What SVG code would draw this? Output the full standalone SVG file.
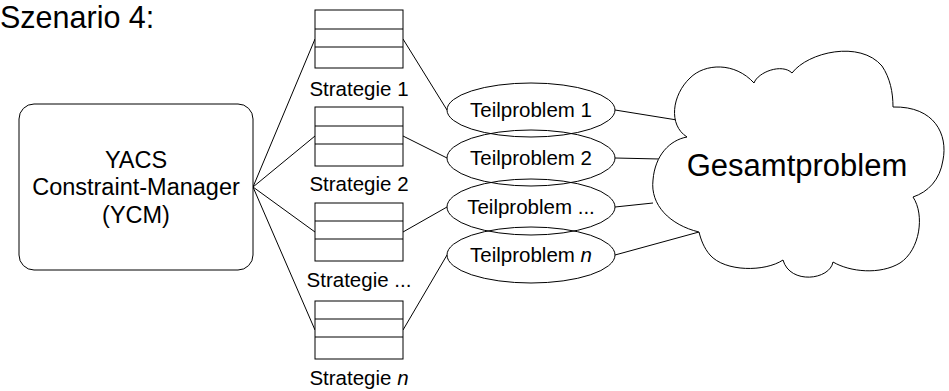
<svg xmlns="http://www.w3.org/2000/svg" width="949" height="391" viewBox="0 0 949 391">
<style>
  .s{fill:#fff;stroke:#000;stroke-width:1}
  .ln{stroke:#000;stroke-width:1;fill:none}
  text{font-family:"Liberation Sans",Arial,sans-serif;fill:#000}
  .lbl{font-size:20.5px;text-anchor:middle}
  .ycm{font-size:23.5px;text-anchor:middle}
  .it{font-style:italic}
</style>
<rect width="949" height="391" fill="#fff"/>
<text x="0" y="28" style="font-size:30.5px">Szenario 4:</text>

<g id="connectors">
  <line class="ln" x1="253" y1="187" x2="315" y2="39"/>
  <line class="ln" x1="253" y1="187" x2="315" y2="136"/>
  <line class="ln" x1="253" y1="187" x2="315" y2="232"/>
  <line class="ln" x1="253" y1="187" x2="315" y2="330"/>
  <line class="ln" x1="403" y1="39" x2="447" y2="110"/>
  <line class="ln" x1="403" y1="136" x2="447" y2="158"/>
  <line class="ln" x1="403" y1="232" x2="447" y2="207"/>
  <line class="ln" x1="403" y1="330" x2="447" y2="255"/>
  <line class="ln" x1="615" y1="110" x2="677" y2="120"/>
  <line class="ln" x1="615" y1="158" x2="660" y2="159"/>
  <line class="ln" x1="615" y1="207" x2="653" y2="203"/>
  <line class="ln" x1="615" y1="255" x2="699" y2="232"/>
</g>

<g id="ycm">
  <rect class="s" x="19" y="104" width="234" height="166" rx="15" ry="15"/>
  <text class="ycm" x="136" y="168">YACS</text>
  <text class="ycm" x="136" y="195">Constraint-Manager</text>
  <text class="ycm" x="136" y="223">(YCM)</text>
</g>

<g id="strategie1">
  <rect class="s" x="315" y="10" width="88" height="58"/>
  <line class="ln" x1="315" y1="29" x2="403" y2="29"/>
  <line class="ln" x1="315" y1="47" x2="403" y2="47"/>
  <text class="lbl" x="359" y="96">Strategie 1</text>
</g>
<g id="strategie2">
  <rect class="s" x="315" y="107" width="88" height="59"/>
  <line class="ln" x1="315" y1="126" x2="403" y2="126"/>
  <line class="ln" x1="315" y1="144" x2="403" y2="144"/>
  <text class="lbl" x="359" y="191">Strategie 2</text>
</g>
<g id="strategie3">
  <rect class="s" x="315" y="203" width="88" height="58"/>
  <line class="ln" x1="315" y1="221" x2="403" y2="221"/>
  <line class="ln" x1="315" y1="239" x2="403" y2="239"/>
  <text class="lbl" x="359" y="287">Strategie ...</text>
</g>
<g id="strategieN">
  <rect class="s" x="315" y="301" width="88" height="58"/>
  <line class="ln" x1="315" y1="319" x2="403" y2="319"/>
  <line class="ln" x1="315" y1="337" x2="403" y2="337"/>
  <text class="lbl" x="359" y="385">Strategie <tspan class="it">n</tspan></text>
</g>

<g id="teil1">
  <ellipse class="s" cx="531" cy="110" rx="84" ry="27" fill-opacity="0"/>
  <text class="lbl" x="531" y="117">Teilproblem 1</text>
</g>
<g id="teil2">
  <ellipse class="ln" cx="531" cy="158" rx="84" ry="28"/>
  <text class="lbl" x="531" y="165">Teilproblem 2</text>
</g>
<g id="teil3">
  <ellipse class="ln" cx="531" cy="207" rx="84" ry="28"/>
  <text class="lbl" x="531" y="214">Teilproblem ...</text>
</g>
<g id="teilN">
  <ellipse class="ln" cx="531" cy="255" rx="84" ry="28"/>
  <text class="lbl" x="531" y="262">Teilproblem <tspan class="it">n</tspan></text>
</g>

<g id="gesamt">
  <path class="s" d="M687,137 C668,125 672,95 690,78 C705,63 735,62 754,83 C758,72 782,63 792,73 C808,52 860,40 882,66 C890,78 893,92 893,107 C935,106 948,135 943,160 C940,180 928,192 913,197 C925,215 920,250 900,263 C880,275 850,272 833,262 C830,280 790,285 783,260 C765,272 725,272 710,255 C704,248 701,240 699,232 C670,225 650,205 653,180 C655,155 670,140 687,137 Z"/>
  <text x="797" y="176" style="font-size:31px;text-anchor:middle">Gesamtproblem</text>
</g>
</svg>
